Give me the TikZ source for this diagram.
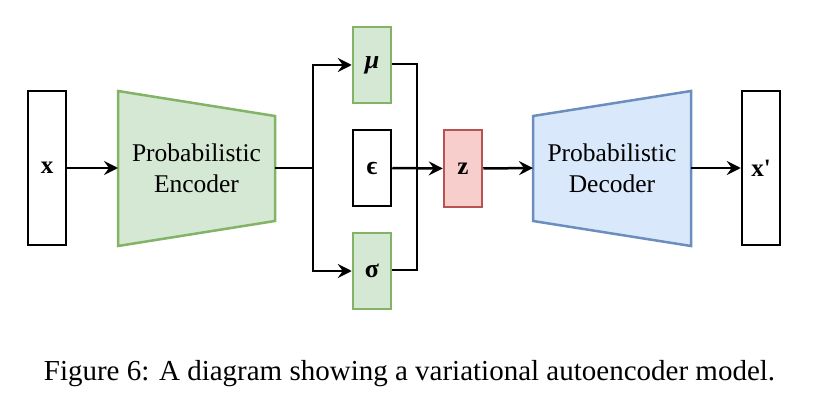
\documentclass[tikz,border=0pt]{standalone}
\usepackage{amsmath,bm}
\usepackage{fontspec}
\setmainfont{Liberation Serif}
\usetikzlibrary{arrows.meta}
\definecolor{gfill}{HTML}{D5E8D4}
\definecolor{gline}{HTML}{82B366}
\definecolor{rfill}{HTML}{F8CECC}
\definecolor{rline}{HTML}{B85450}
\definecolor{bfill}{HTML}{DAE8FC}
\definecolor{bline}{HTML}{6C8EBF}
\tikzset{
  vec/.style={draw=black, line width=2.5pt, fill=white, inner sep=0pt,
    minimum width=38pt, font=\fontsize{25}{30}\selectfont\bfseries},
  latent/.style={draw=gline, fill=gfill, line width=2.5pt, inner sep=0pt,
    minimum width=38pt, minimum height=76pt, font=\fontsize{26}{30}\selectfont\bfseries},
  zbox/.style={draw=rline, fill=rfill, line width=2.5pt, inner sep=0pt,
    minimum width=38pt, minimum height=77pt, font=\fontsize{25}{30}\selectfont\bfseries},
  trap/.style={line width=2.5pt, line join=miter},
  lbl/.style={align=center, font=\fontsize{25.5}{31}\selectfont},
  conn/.style={line width=2.5pt, -{Stealth[length=14pt,width=14pt,inset=5pt]}},
  plain/.style={line width=2.5pt},
}
\begin{document}
\begin{tikzpicture}[x=1pt,y=-1pt]
\useasboundingbox (0,0) rectangle (822,401);
% input
\node[vec, minimum height=154pt] (x) at (47,168) {x};
% encoder
\coordinate (encL) at (118,168);
\coordinate (encR) at (275,168);
\fill[gfill] (118,91) -- (275,116) -- (275,221) -- (118,246) -- cycle;
\draw[trap, gline] (118,91) -- (275,116) -- (275,221) -- (118,246) -- cycle;
\node[lbl] (enc) at (196.5,168) {Probabilistic\\Encoder};
% latent boxes
\node[latent] (mu) at (372,65) {\textit{μ}};
\node[vec, minimum height=76pt, font=\fontsize{26}{30}\selectfont\bfseries] (eps) at (372,168) {ϵ};
\node[latent] (sigma) at (372,271) {σ};
% z
\node[zbox] (z) at (463,168.5) {z};
% decoder
\coordinate (decL) at (533,168);
\coordinate (decR) at (691,168);
\fill[bfill] (533,116) -- (691,91) -- (691,246) -- (533,221) -- cycle;
\draw[trap, bline] (533,116) -- (691,91) -- (691,246) -- (533,221) -- cycle;
\node[lbl] (dec) at (612,168) {Probabilistic\\Decoder};
% output
\node[vec, minimum height=154pt] (xp) at (761,168) {x\textquotesingle};
% junctions
\coordinate (j1) at (313,168);
\coordinate (busT) at (417,64);
\coordinate (busB) at (417,270);
% connectors
\draw[conn] (x.east) -- (encL);
\draw[plain] (encR) -- (j1);
\draw[conn] (j1) |- (mu.west);
\draw[conn] (j1) |- (sigma.west);
\draw[plain] (mu.east |- busT) -- (busT) -- (busB) -- (sigma.east |- busB);
\draw[conn] (eps.east) -- (z.west);
\draw[conn] (z.east) -- (decL);
\draw[conn] (decR) -- (xp.west);
% caption
\node[anchor=base, font=\fontsize{29}{34}\selectfont, inner sep=0pt] (cap) at (409.5,380)
  {Figure 6: A diagram showing a variational autoencoder model.};
\end{tikzpicture}
\end{document}
